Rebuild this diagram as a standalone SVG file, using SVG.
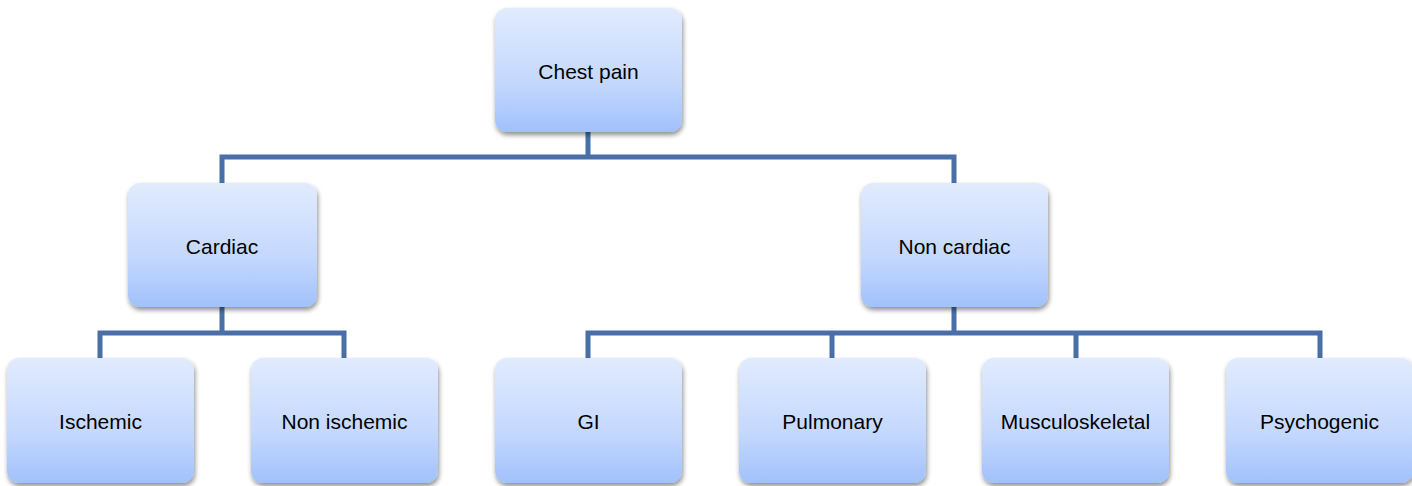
<svg xmlns="http://www.w3.org/2000/svg" width="1412" height="486" viewBox="0 0 1412 486">
<defs>
<linearGradient id="g" x1="0" y1="0" x2="0" y2="1">
<stop offset="0" stop-color="#e1ebfd"/>
<stop offset="0.6" stop-color="#c4d8fd"/>
<stop offset="1" stop-color="#a1c1fc"/>
</linearGradient>
<filter id="sh" x="-10%" y="-10%" width="125%" height="130%">
<feGaussianBlur in="SourceAlpha" stdDeviation="2.5"/>
<feOffset dx="1" dy="3" result="b"/>
<feComponentTransfer><feFuncA type="linear" slope="0.45"/></feComponentTransfer>
<feMerge><feMergeNode/><feMergeNode in="SourceGraphic"/></feMerge>
</filter>
</defs>
<style>
.box{fill:url(#g);filter:url(#sh)}
.t{font-family:"Liberation Sans",Arial,sans-serif;font-size:21px;fill:#000;text-anchor:middle}
.c{fill:none;stroke:#4870a6;stroke-width:5;stroke-linejoin:miter}
</style>
<g id="connectors">
<path class="c" d="M588 132 V157 M222 183 V157 H954 V183"/>
<path class="c" d="M222 307 V333 M100 358 V333 H344 V358"/>
<path class="c" d="M954 307 V333 M588 358 V333 H1320 V358 M832 333 V358 M1076 333 V358"/>
</g>
<g id="chest-pain"><rect class="box" x="495" y="8" width="187" height="124" rx="12"/><text class="t" x="588.5" y="79">Chest pain</text></g>
<g id="cardiac"><rect class="box" x="128" y="183" width="189" height="124" rx="12"/><text class="t" x="222" y="254">Cardiac</text></g>
<g id="non-cardiac"><rect class="box" x="861" y="183" width="187" height="124" rx="12"/><text class="t" x="954.5" y="254">Non cardiac</text></g>
<g id="ischemic"><rect class="box" x="7" y="358" width="187" height="125" rx="12"/><text class="t" x="100.5" y="429">Ischemic</text></g>
<g id="non-ischemic"><rect class="box" x="251" y="358" width="187" height="125" rx="12"/><text class="t" x="344.5" y="429">Non ischemic</text></g>
<g id="gi"><rect class="box" x="495" y="358" width="187" height="125" rx="12"/><text class="t" x="588.5" y="429">GI</text></g>
<g id="pulmonary"><rect class="box" x="739" y="358" width="187" height="125" rx="12"/><text class="t" x="832.5" y="429">Pulmonary</text></g>
<g id="musculoskeletal"><rect class="box" x="982" y="358" width="187" height="125" rx="12"/><text class="t" x="1075.5" y="429">Musculoskeletal</text></g>
<g id="psychogenic"><rect class="box" x="1226" y="358" width="187" height="125" rx="12"/><text class="t" x="1319.5" y="429">Psychogenic</text></g>
</svg>
